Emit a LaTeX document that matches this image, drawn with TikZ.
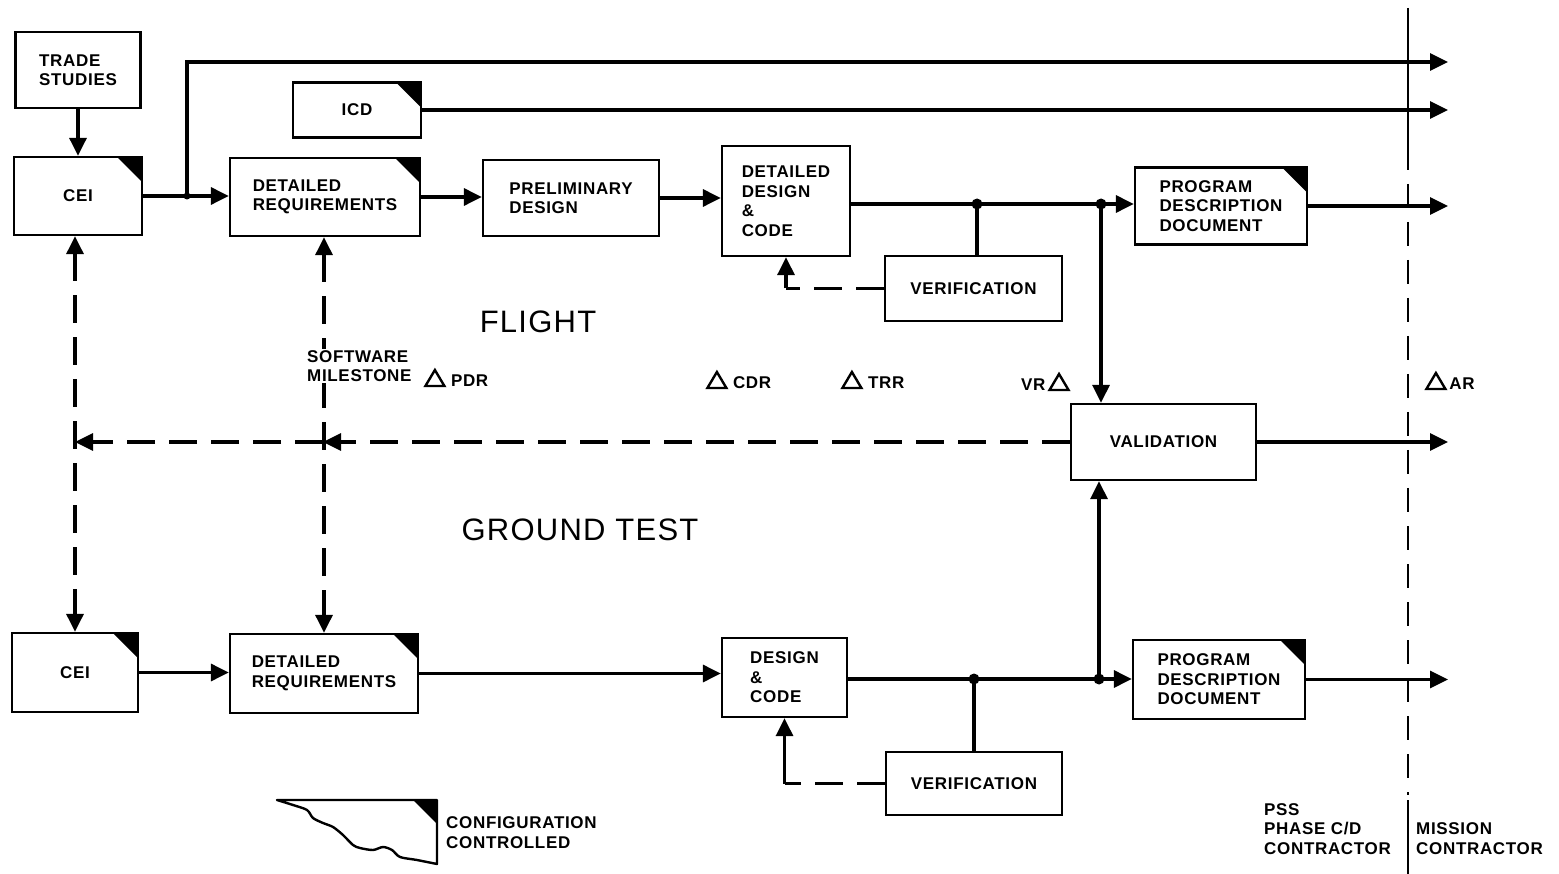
\documentclass[tikz,border=0pt]{standalone}
\usepackage{fontspec}
\setmainfont[LetterSpace=4]{Liberation Sans}
\usetikzlibrary{arrows.meta}

\newcommand\lbl{\fontsize{17}{19.5}\selectfont\bfseries}
\newcommand\biglbl{\fontsize{31}{36}\selectfont}
\newcommand\mtri{\tikz[baseline=-1pt]\draw[line width=2.4pt] (0pt,0pt) -- (19pt,0pt) -- (9.5pt,16pt) -- cycle;}

\tikzset{
  box/.style={draw, line width=2.3pt, align=left, font=\lbl, inner sep=0pt},
  cfg/.style={box, path picture={\fill (path picture bounding box.north east) -- ++(-25pt,0pt) -- ++(25pt,-25pt) -- cycle;}},
  flow/.style={line width=3.2pt},
  arr/.style={flow, -{Triangle[length=18pt,width=17pt]}},
  dashln/.style={line width=3.2pt, dash pattern=on 28pt off 14pt},
  darr/.style={dashln, -{Triangle[length=18pt,width=17pt]}},
  dboth/.style={dashln, {Triangle[length=18pt,width=17pt]}-{Triangle[length=18pt,width=17pt]}},
  jdot/.style={circle, fill, inner sep=0pt, minimum size=11pt},
  mile/.style={font=\lbl, anchor=west, inner sep=0pt},
}

\begin{document}
\begin{tikzpicture}[x=1pt,y=-1pt]
  \useasboundingbox (0,0) rectangle (1559,874);
  % Flight boxes
  \node[box, minimum width=125pt, minimum height=76pt] (ts) at (78,70) {TRADE\\STUDIES};
  \node[cfg, minimum width=128pt, minimum height=78pt] (ceiA) at (78,196) {CEI};
  \node[cfg, minimum width=128pt, minimum height=55pt] (icd) at (357,110) {ICD};
  \node[cfg, minimum width=190pt, minimum height=78pt] (drA) at (325,197) {DETAILED\\REQUIREMENTS};
  \node[box, minimum width=176pt, minimum height=76pt] (pd) at (571,198) {PRELIMINARY\\DESIGN};
  \node[box, minimum width=128pt, minimum height=110pt] (ddc) at (786,201) {DETAILED\\DESIGN\\\&\\CODE};
  \node[cfg, minimum width=172pt, minimum height=77pt] (pddA) at (1221,206) {PROGRAM\\DESCRIPTION\\DOCUMENT};
  \node[box, minimum width=177pt, minimum height=65pt] (verA) at (973.5,288.5) {VERIFICATION};
  \node[box, minimum width=185pt, minimum height=76pt] (val) at (1163.5,442) {VALIDATION};
  % Ground test boxes
  \node[cfg, minimum width=126pt, minimum height=79pt] (ceiB) at (75,672.5) {CEI};
  \node[cfg, minimum width=188pt, minimum height=79pt] (drB) at (324,673.5) {DETAILED\\REQUIREMENTS};
  \node[box, minimum width=125pt, minimum height=79pt] (dc) at (784.5,677.5) {DESIGN\\\&\\CODE};
  \node[cfg, minimum width=172pt, minimum height=79pt] (pddB) at (1219,679.5) {PROGRAM\\DESCRIPTION\\DOCUMENT};
  \node[box, minimum width=176pt, minimum height=63pt] (verB) at (974,783.5) {VERIFICATION};

  % Free ends and junctions
  \coordinate (oT) at (1448,62);
  \coordinate (jS) at (187,196);
  \coordinate (jA) at (977,204);
  \coordinate (kA) at (1101,204);
  \coordinate (jB) at (974,679);
  \coordinate (kB) at (1099,679);
  \coordinate (sm) at (323,442);

  % Flight flow
  \draw[arr] (ts.south) -- (ceiA.north);
  \draw[arr] (ceiA.east) -- (ceiA.east -| drA.west);
  \fill (jS) circle (3.5pt);
  \draw[arr] (jS) |- (oT);
  \draw[arr] (icd.east) -- (icd.east -| oT);
  \draw[arr] (drA.east) -- (drA.east -| pd.west);
  \draw[arr] (pd.east) -- (pd.east -| ddc.west);
  \draw[flow] (ddc.east |- jA) -- (jA) -- (kA);
  \draw[arr] (kA) -- (kA -| pddA.west);
  \draw[flow] (jA) -- (jA |- verA.north);
  \draw[arr] (kA) -- (kA |- val.north);
  \node[jdot] at (jA) {};
  \node[jdot] at (kA) {};
  \draw[arr] (pddA.east) -- (pddA.east -| oT);
  \draw[dashln] (verA.west) -- (verA.west -| ddc.south);
  \draw[arr] (verA.west -| ddc.south) -- (ddc.south);

  % Ground test flow
  \draw[arr] (ceiB.east) -- (ceiB.east -| drB.west);
  \draw[arr] (drB.east) -- (drB.east -| dc.west);
  \draw[flow] (dc.east |- jB) -- (jB) -- (kB);
  \draw[arr] (kB) -- (kB -| pddB.west);
  \draw[flow] (jB) -- (jB |- verB.north);
  \draw[arr] (kB) -- (kB |- val.south);
  \node[jdot] at (jB) {};
  \node[jdot] at (kB) {};
  \draw[arr] (pddB.east) -- (pddB.east -| oT);
  \draw[dashln] (verB.west) -- (verB.west -| dc.south);
  \draw[arr] (verB.west -| dc.south) -- (dc.south);
  \draw[arr] (val.east) -- (val.east -| oT);

  % Dashed links
  \draw[dboth] (ceiB.north |- ceiA.south) -- (ceiB.north);
  \draw[dboth] (drB.north |- drA.south) -- (drB.north);
  \draw[darr] (val.west) -- (sm);
  \draw[darr] (sm) -- (ceiB.north |- sm);

  % Milestones
  \node[font=\lbl, align=left, fill=white, anchor=west, inner sep=1pt] (swm) at (306,366) {SOFTWARE\\MILESTONE};
  \node[mile] (pdr) at (424,378) {\mtri\ PDR};
  \node[mile] (cdr) at (706,380) {\mtri\ CDR};
  \node[mile] (trr) at (841,380) {\mtri\ TRR};
  \node[mile] (vr) at (1021,382) {VR\,\mtri};
  \node[mile] (ar) at (1425,381) {\mtri\,AR};
  \node[font=\biglbl] (fl) at (538,322) {FLIGHT};
  \node[font=\biglbl] (gt) at (580,530) {GROUND TEST};

  % Contractor boundary
  \draw[line width=2.4pt] (1408,8) -- (1408,146);
  \draw[line width=2.4pt, dash pattern=on 24pt off 14pt] (1408,146) -- (1408,795);
  \draw[line width=2.4pt] (1408,800) -- (1408,874);
  \node[font=\lbl, align=left, anchor=west, inner sep=0pt] (pss) at (1264,829) {PSS\\PHASE C/D\\CONTRACTOR};
  \node[font=\lbl, align=left, anchor=west, inner sep=0pt] (mc) at (1416,838.5) {MISSION\\CONTRACTOR};

  % Legend
  \draw[line width=2.4pt, line join=round] plot[smooth, tension=0.5] coordinates {(437,864) (417,860) (400,857) (392,850) (383,847) (373,850) (360,848) (353,845) (343,835) (333,827) (323,823) (313,818) (307,810) (293,805) (277,800)} -- (437,800) -- cycle;
  \fill (413,800) -- (437,800) -- (437,824) -- cycle;
  \node[font=\lbl, align=left, anchor=west, inner sep=0pt] (lg) at (446,832.5) {CONFIGURATION\\CONTROLLED};
\end{tikzpicture}
\end{document}
